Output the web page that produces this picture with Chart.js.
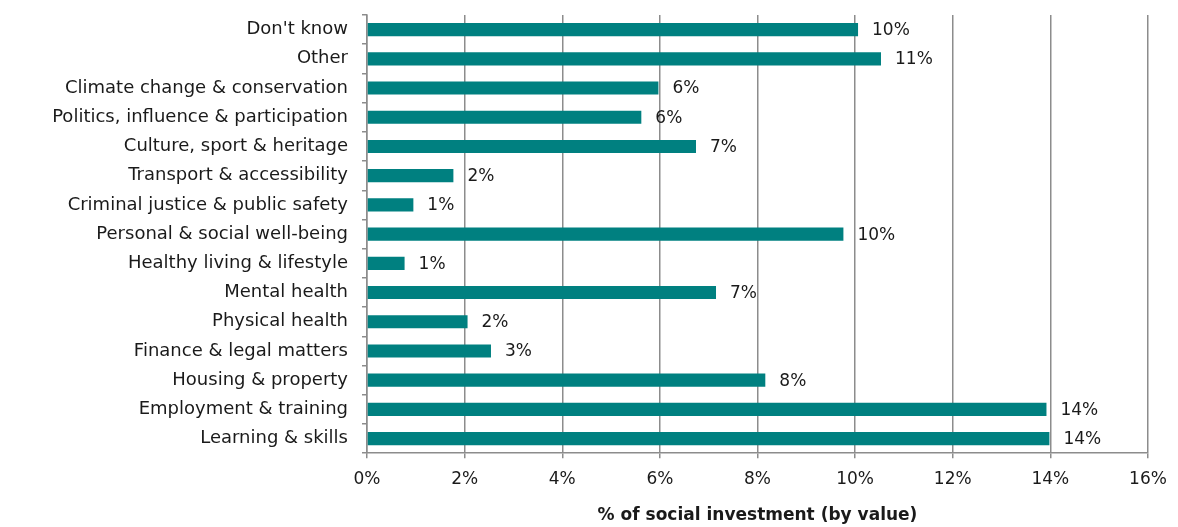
<!DOCTYPE html>
<html>
<head>
<meta charset="utf-8">
<script src="https://cdn.jsdelivr.net/npm/chart.js@4.4.1/dist/chart.umd.min.js"></script>
<style>
  html, body { margin: 0; padding: 0; background: #ffffff; }
  #wrap { width: 1178px; height: 527px; position: relative; }
</style>
</head>
<body>
<div id="wrap"><canvas id="investChart"></canvas></div>
<script>
// --- Data ---
const categories = [
    "Don't know",
    'Other',
    'Climate change & conservation',
    'Politics, influence & participation',
    'Culture, sport & heritage',
    'Transport & accessibility',
    'Criminal justice & public safety',
    'Personal & social well-being',
    'Healthy living & lifestyle',
    'Mental health',
    'Physical health',
    'Finance & legal matters',
    'Housing & property',
    'Employment & training',
    'Learning & skills'
];
const shareValues = [10.06, 10.53, 5.97, 5.62, 6.74, 1.77, 0.95, 9.76, 0.77, 7.15, 2.06, 2.54, 8.16, 13.92, 13.98];
const shareLabels = ['10%', '11%', '6%', '6%', '7%', '2%', '1%', '10%', '1%', '7%', '2%', '3%', '8%', '14%', '14%'];
const xTickValues = [0, 2, 4, 6, 8, 10, 12, 14, 16];
const axisTitle = '% of social investment (by value)';

const FONT = '"DejaVu Sans", sans-serif';
const TEXT_COLOR = '#1a1a1a';
const GRID_COLOR = '#8c8c8c';
const BAR_COLOR = '#008080';

// labels right of bar ends
const barLabelPlugin = {
    id: 'barLabels',
    afterDatasetsDraw(chart) {
        const ctx = chart.ctx;
        const meta = chart.getDatasetMeta(0);
        ctx.save();
        ctx.font = '17px ' + FONT;
        ctx.fillStyle = TEXT_COLOR;
        ctx.textAlign = 'left';
        ctx.textBaseline = 'middle';
        meta.data.forEach((bar, i) => {
            ctx.fillText(shareLabels[i], bar.x + 14, bar.y + 1);
        });
        ctx.restore();
    }
};

const ctx = document.getElementById('investChart').getContext('2d');
new Chart(ctx, {
    type: 'bar',
    data: {
        labels: categories,
        datasets: [{
            data: shareValues,
            backgroundColor: BAR_COLOR,
            borderWidth: 0,
            barPercentage: 0.45,
            categoryPercentage: 1.0
        }]
    },
    options: {
        indexAxis: 'y',
        responsive: true,
        maintainAspectRatio: false,
        animation: false,
        layout: { padding: { top: 15, right: 30, left: 0, bottom: 1 } },
        plugins: {
            legend: { display: false },
            tooltip: { enabled: false }
        },
        scales: {
            x: {
                min: 0,
                max: 16,
                afterBuildTicks: (axis) => {
                    axis.ticks = xTickValues.map(v => ({ value: v }));
                },
                ticks: {
                    callback: (v) => v + '%',
                    color: TEXT_COLOR,
                    font: { family: FONT, size: 17 },
                    padding: 11,
                    maxRotation: 0
                },
                grid: {
                    color: GRID_COLOR,
                    lineWidth: 1.5,
                    tickLength: 5,
                    drawTicks: true
                },
                border: { color: GRID_COLOR, width: 1.5 },
                title: {
                    display: true,
                    text: axisTitle,
                    color: TEXT_COLOR,
                    font: { family: FONT, size: 17, weight: 'bold' },
                    padding: { top: 5, bottom: 0 }
                }
            },
            y: {
                afterFit: (axis) => {
                    axis.width = 367;
                    axis.paddingTop = 0;
                    axis.paddingBottom = 0;
                },
                ticks: {
                    color: TEXT_COLOR,
                    font: { family: FONT, size: 18 },
                    padding: 14,
                    autoSkip: false
                },
                grid: {
                    offset: true,
                    drawOnChartArea: false,
                    color: GRID_COLOR,
                    lineWidth: 1.5,
                    tickLength: 5
                },
                border: { color: GRID_COLOR, width: 1.5 }
            }
        }
    },
    plugins: [barLabelPlugin]
});
</script>
</body>
</html>
